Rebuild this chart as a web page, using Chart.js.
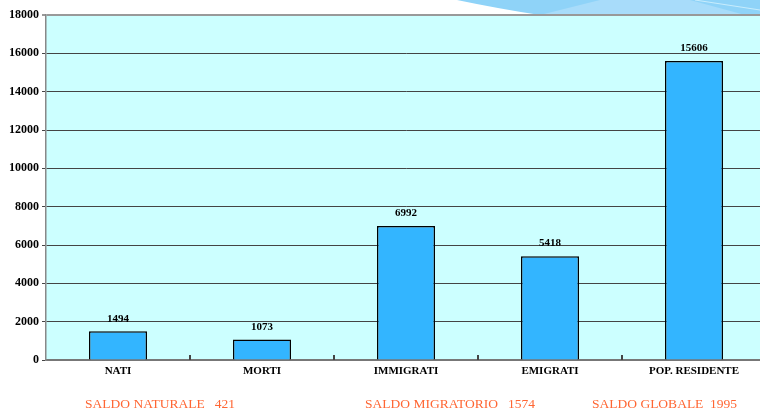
<!DOCTYPE html>
<html lang="it">
<head>
  <meta charset="UTF-8" />
  <title>Movimento demografico</title>
  <script src="https://cdn.jsdelivr.net/npm/chart.js"></script>
  <style>
    html, body { margin: 0; padding: 0; background: #fff; overflow: hidden; }
    #wrap { position: relative; width: 760px; height: 414px; overflow: hidden; }
    .saldo { position: absolute; top: 396px; font: 13.5px "Liberation Serif", serif; color: #ff6633; white-space: pre; }
  </style>
</head>
<body>
  <div id="wrap">
    <canvas id="chart" width="766" height="414"></canvas>
    <div class="saldo" style="left:85px">SALDO NATURALE   421</div>
    <div class="saldo" style="left:365px">SALDO MIGRATORIO   1574</div>
    <div class="saldo" style="left:592px">SALDO GLOBALE  1995</div>
  </div>

  <script>
    const categories = ['NATI', 'MORTI', 'IMMIGRATI', 'EMIGRATI', 'POP. RESIDENTE'];
    const values = [1494, 1073, 6992, 5418, 15606];

    const serif = '"Liberation Serif", "Times New Roman", serif';

    // decorative swoosh top right + plot background
    const decor = {
      id: 'decor',
      beforeDraw(chart) {
        const ctx = chart.ctx;
        const a = chart.chartArea;
        ctx.save();
        ctx.fillStyle = '#8fd3f8';
        ctx.beginPath();
        ctx.moveTo(457, 0);
        ctx.quadraticCurveTo(500, 9, 540, a.top);
        ctx.lineTo(766, a.top); ctx.lineTo(766, 0);
        ctx.closePath(); ctx.fill();
        ctx.fillStyle = '#a8dcfa';
        ctx.beginPath();
        ctx.moveTo(540, a.top); ctx.lineTo(600, 0); ctx.lineTo(690, 0); ctx.lineTo(745, a.top);
        ctx.closePath(); ctx.fill();
        ctx.strokeStyle = '#c8ecfc';
        ctx.lineWidth = 1;
        ctx.beginPath(); ctx.moveTo(695, 0); ctx.lineTo(760, 10); ctx.stroke();
        ctx.fillStyle = '#ccffff';
        ctx.fillRect(a.left, a.top, a.right - a.left, a.bottom - a.top);
        ctx.restore();
      },
      afterDraw(chart) {
        // small tick marks between categories, pointing up into the plot
        const ctx = chart.ctx;
        const x = chart.scales.x;
        const a = chart.chartArea;
        ctx.save();
        ctx.strokeStyle = '#444';
        ctx.lineWidth = 2;
        for (let i = 1; i < categories.length; i++) {
          const px = (x.getPixelForValue(i - 1) + x.getPixelForValue(i)) / 2;
          ctx.beginPath(); ctx.moveTo(px, a.bottom); ctx.lineTo(px, a.bottom - 5); ctx.stroke();
        }
        ctx.restore();
      }
    };

    const labelsOnTop = {
      id: 'labelsOnTop',
      afterDatasetsDraw(chart) {
        const ctx = chart.ctx;
        const meta = chart.getDatasetMeta(0);
        ctx.save();
        ctx.font = 'bold 11px ' + serif;
        ctx.fillStyle = '#000';
        ctx.textAlign = 'center';
        ctx.textBaseline = 'bottom';
        meta.data.forEach((bar, i) => {
          ctx.fillText(values[i], bar.x, bar.y - 7);
        });
        ctx.restore();
      }
    };

    new Chart(document.getElementById('chart'), {
      type: 'bar',
      data: {
        labels: categories,
        datasets: [{
          data: values,
          backgroundColor: '#33b5ff',
          borderColor: '#000',
          borderWidth: 1.5,
          borderSkipped: 'bottom',
          categoryPercentage: 1,
          barPercentage: 0.403
        }]
      },
      options: {
        responsive: false,
        animation: false,
        layout: { padding: { top: 15, right: 0, left: 0, bottom: 0 } },
        plugins: { legend: { display: false }, tooltip: { enabled: false } },
        scales: {
          x: {
            grid: { display: false, drawTicks: false },
            border: { color: '#777', width: 2 },
            ticks: { color: '#000', font: { family: serif, weight: 'bold', size: 11 }, padding: 5 },
            afterFit(scale) { scale.height = 54; }
          },
          y: {
            min: 0, max: 18000,
            ticks: {
              stepSize: 2000, color: '#000', padding: 3,
              font: { family: serif, weight: 'bold', size: 12 },
              callback: v => String(v)
            },
            grid: { color: (c) => c.tick.value === 18000 ? '#999' : '#444', lineWidth: (c) => c.tick.value === 18000 ? 2 : 1, tickLength: 4 },
            border: { color: '#888', width: 1.5 },
            afterFit(scale) { scale.width = 46; }
          }
        }
      },
      plugins: [decor, labelsOnTop]
    });
  </script>
</body>
</html>
